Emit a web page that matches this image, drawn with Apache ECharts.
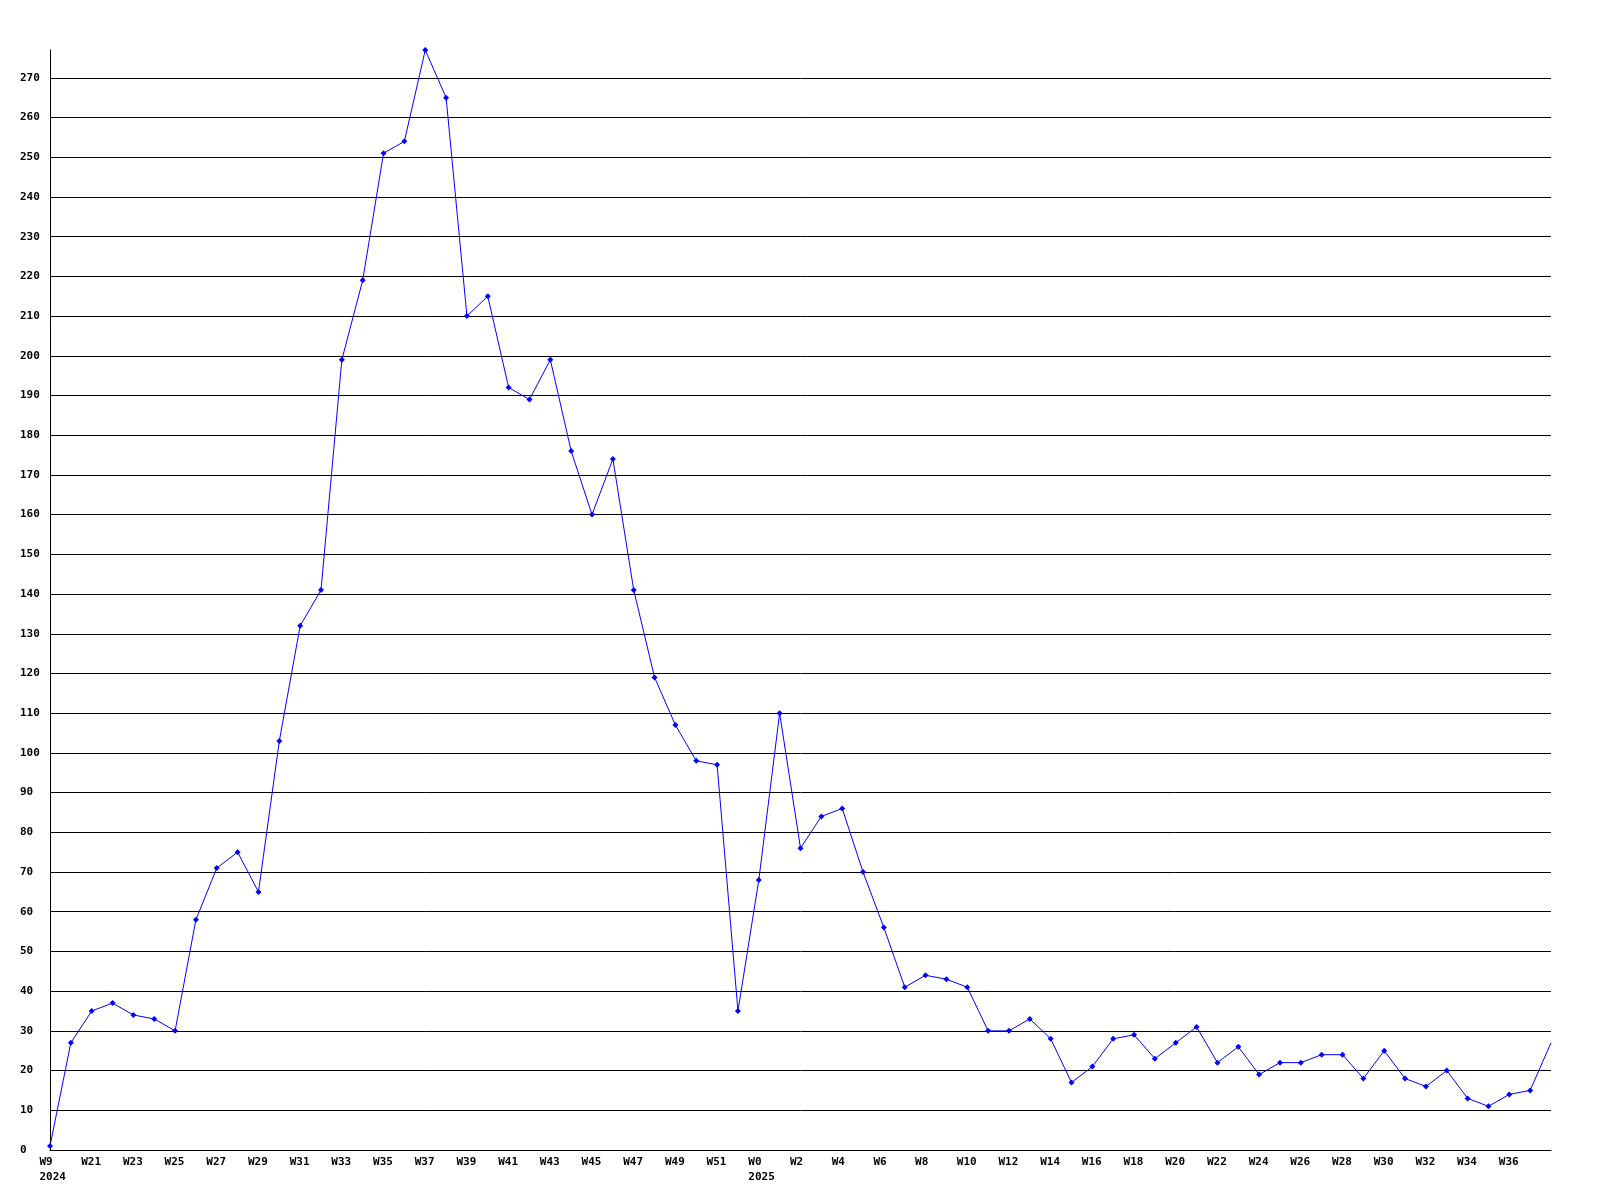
<!DOCTYPE html>
<html>
<head>
<meta charset="utf-8">
<script src="https://cdn.jsdelivr.net/npm/echarts@6/dist/echarts.min.js"></script>
<style>html,body{margin:0;padding:0;background:#fff}#c{width:1600px;height:1200px}</style>
</head>
<body>
<div id="c"></div>
<script>
const weeks = ['W9','W20','W21','W22','W23','W24','W25','W26','W27','W28','W29','W30','W31','W32','W33','W34','W35','W36','W37','W38','W39','W40','W41','W42','W43','W44','W45','W46','W47','W48','W49','W50','W51','W52',
  'W0','W1','W2','W3','W4','W5','W6','W7','W8','W9','W10','W11','W12','W13','W14','W15','W16','W17','W18','W19','W20','W21','W22','W23','W24','W25','W26','W27','W28','W29','W30','W31','W32','W33','W34','W35','W36','W37','W38'];
const values = [1,27,35,37,34,33,30,58,71,75,65,103,132,141,199,219,251,254,277,265,210,215,192,189,199,176,160,174,141,119,107,98,97,35,
  68,110,76,84,86,70,56,41,44,43,41,30,30,33,28,17,21,28,29,23,27,31,22,26,19,22,22,24,24,18,25,18,16,20,13,11,14,15,27];
const yearStarts = {0:'2024', 34:'2025'};
const yTickStep = 10;

const font = {fontFamily:'DejaVu Sans Mono', fontWeight:'bold', fontSize:11, color:'#000'};
const chart = echarts.init(document.getElementById('c'));
chart.setOption({
  animation:false,
  backgroundColor:'#fff',
  grid:[
    {left:50, right:49, top:50, bottom:50},
    {left:39.5, right:59.5, top:50, bottom:50}
  ],
  xAxis:[
    {type:'category', gridIndex:0, data:weeks, boundaryGap:false,
     axisLine:{show:true, lineStyle:{color:'#000', width:1}}, axisTick:{show:false},
     axisLabel:{show:false}, splitLine:{show:false}},
    {type:'category', gridIndex:1, data:weeks, boundaryGap:false,
     axisLine:{show:false}, axisTick:{show:false}, splitLine:{show:false},
     axisLabel:Object.assign({}, font, {align:'left', margin:5, lineHeight:15,
       interval:(i)=> i%2===0 && i<weeks.length-1,
       formatter:(v,i)=> yearStarts[i] ? v+'\n'+yearStarts[i] : v})}
  ],
  yAxis:[
    {type:'value', gridIndex:0, min:0, max:277, interval:yTickStep,
     axisLine:{show:true, lineStyle:{color:'#000', width:1}}, axisTick:{show:false},
     axisLabel:Object.assign({}, font, {margin:30, align:'left', showMaxLabel:false}),
     splitLine:{show:true, showMaxLine:false, lineStyle:{color:'#000', width:1}}},
    {type:'value', gridIndex:1, min:0, max:277, show:false}
  ],
  series:[
    {type:'line', xAxisIndex:0, yAxisIndex:0, data:values,
     lineStyle:{color:'#0000ff', width:1}, itemStyle:{color:'#0000ff'},
     symbol:(v, p)=> p.dataIndex === values.length-1 ? 'none' : 'diamond',
     symbolSize:6, showAllSymbol:true, clip:true},
    {type:'line', xAxisIndex:1, yAxisIndex:1, data:[], silent:true}
  ]
});
</script>
</body>
</html>
